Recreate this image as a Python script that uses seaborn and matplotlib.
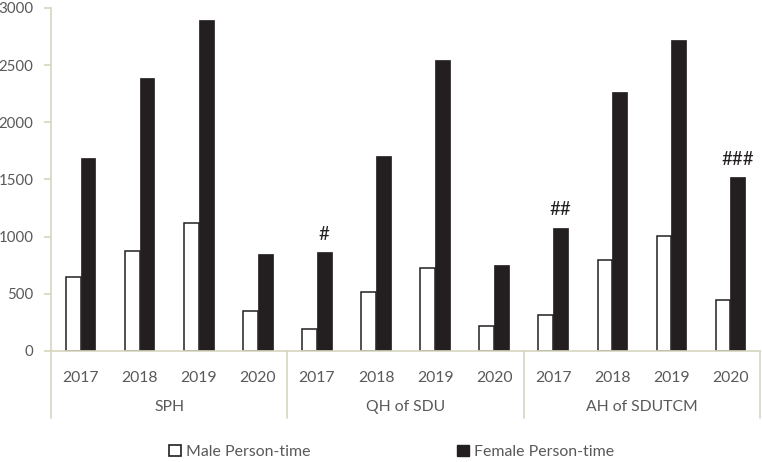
import matplotlib
matplotlib.use("Agg")
import matplotlib.pyplot as plt
import matplotlib.patches as mpatches
import seaborn as sns
import pandas as pd

hospitals = ["SPH", "QH of SDU", "AH of SDUTCM"]
years = ["2017", "2018", "2019", "2020"]
male = [647, 875, 1120, 352, 190, 519, 722, 219, 318, 796, 1009, 446]
female = [1690, 2385, 2895, 850, 868, 1705, 2545, 752, 1079, 2265, 2722, 1519]
marks = {4: "#", 8: "##", 11: "###"}
series = ["Male Person-time", "Female Person-time"]

cats = [f"{h}|{y}" for h in hospitals for y in years]
df = pd.DataFrame({
    "cat": cats * 2,
    "value": male + female,
    "sex": [series[0]] * len(cats) + [series[1]] * len(cats),
})

sns.set_theme(style="white")
plt.rcParams["font.family"] = ["Lato", "DejaVu Sans"]

fig = plt.figure(figsize=(7.62, 4.62), dpi=100)
ax = fig.add_axes([0.067, 0.2403, 0.9304, 0.7424])

dark = "#231f20"
axis_col = "#d6d6bf"
txt_col = "#595959"

sns.barplot(data=df, x="cat", y="value", hue="sex", order=cats,
            hue_order=series, palette={series[0]: "white", series[1]: dark},
            width=0.5, ax=ax, legend=False, saturation=1)
for bar in ax.patches[:len(cats)]:
    bar.set_edgecolor(dark)
    bar.set_linewidth(1.1)
for bar in ax.patches[len(cats):2 * len(cats)]:
    bar.set_edgecolor(dark)
    bar.set_linewidth(0.5)

ax.set_ylim(0, 3000)
ax.set_xlim(-0.5, len(cats) - 0.5)
ax.set_yticks(range(0, 3001, 500))
ax.set_xticks(range(len(cats)))
ax.set_xticklabels(years * len(hospitals))
ax.set_xlabel("")
ax.set_ylabel("")

for s in ["top", "right"]:
    ax.spines[s].set_visible(False)
for s in ["left", "bottom"]:
    ax.spines[s].set_color(axis_col)
    ax.spines[s].set_linewidth(1.2)

ax.tick_params(axis="y", which="major", left=True, length=5, width=1.2,
               color=axis_col, labelcolor=txt_col, labelsize=10.8, pad=7.5)
ax.tick_params(axis="x", bottom=False, labelcolor=txt_col, labelsize=11.3, pad=8.5)

# Group labels and separators
trans = ax.get_xaxis_transform()
for gi, h in enumerate(hospitals):
    center = gi * 4 + 1.5
    ax.text(center, -0.163, h, transform=trans, ha="center", va="center",
            fontsize=11.3, color=txt_col)
for b in range(len(hospitals) + 1):
    xb = b * 4 - 0.5
    ax.plot([xb, xb], [0, -0.196], transform=trans, color=axis_col,
            lw=1.2, clip_on=False)

# Significance marks
for idx, m in marks.items():
    ax.text(idx + 0.125, female[idx] + 80, m, ha="center", va="bottom",
            fontsize=13.5, color=dark)

handles = [mpatches.Patch(facecolor="white", edgecolor=dark, linewidth=1.2,
                          label=series[0]),
           mpatches.Patch(facecolor=dark, edgecolor=dark, label=series[1])]
fig.legend(handles=handles, loc="center", bbox_to_anchor=(0.514, 0.022),
           ncol=2, frameon=False, fontsize=11.4, handlelength=0.75,
           handleheight=0.75, handletextpad=0.3, columnspacing=9.3,
           labelcolor=txt_col)

fig.savefig("out.png", dpi=100)
